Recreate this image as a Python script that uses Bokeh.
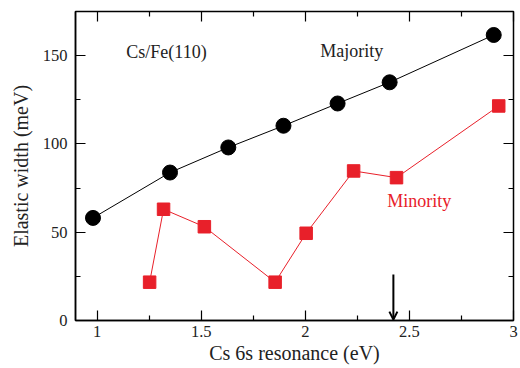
from bokeh.plotting import figure
from bokeh.models import (Range1d, LinearAxis, FixedTicker, Arrow, OpenHead, Label)
from bokeh.embed import file_html
from bokeh.resources import INLINE

# Data
maj_x = [0.98, 1.35, 1.63, 1.895, 2.155, 2.405, 2.905]
maj_y = [58.1, 83.8, 98.0, 110.3, 122.9, 134.9, 161.7]
min_x = [1.252, 1.319, 1.515, 1.855, 2.004, 2.232, 2.438, 2.929]
min_y = [21.7, 63.0, 53.1, 21.7, 49.4, 84.7, 80.9, 121.5]

x_ticks = [1, 1.5, 2, 2.5, 3]
x_tick_labels = ["1", "1.5", "2", "2.5", "3"]
x_minor = [1.25, 1.75, 2.25, 2.75]
y_ticks = [0, 50, 100, 150]
y_tick_labels = ["0", "50", "100", "150"]
y_minor = [25, 75, 125]

arrow_x = 2.423
arrow_y_top = 26
arrow_y_bottom = 0.5

FONT = "'Liberation Serif'"
RED = "#e8202a"
TXT = "#222222"

p = figure(width=520, height=368, output_backend="svg", toolbar_location=None,
           x_range=Range1d(0.896, 3.0), y_range=Range1d(0, 175),
           x_axis_location=None, y_axis_location=None)
p.min_border_left = 75
p.min_border_right = 7
p.min_border_top = 11
p.min_border_bottom = 48
p.background_fill_color = "white"
p.border_fill_color = "white"
p.grid.visible = False
p.outline_line_color = "black"
p.outline_line_width = 1.5
p.outline_line_alpha = 1.0

def make_axis(ticks, minor, labels, show_labels, label_text=None,
              tick_standoff=7, label_standoff=8):
    ax = LinearAxis(ticker=FixedTicker(ticks=ticks, minor_ticks=minor))
    ax.major_tick_in = 10
    ax.major_tick_out = 0
    ax.minor_tick_in = 5
    ax.minor_tick_out = 0
    ax.major_tick_line_width = 1.2
    ax.minor_tick_line_width = 1.2
    ax.axis_line_width = 1.5
    if show_labels:
        ax.major_label_overrides = {t: l for t, l in zip(ticks, labels)}
        ax.major_label_text_font = FONT
        ax.major_label_text_font_size = "16.5px"
        ax.major_label_text_color = TXT
        ax.major_label_standoff = tick_standoff
        if label_text:
            ax.axis_label = label_text
            ax.axis_label_text_font = FONT
            ax.axis_label_text_font_size = "20px"
            ax.axis_label_text_font_style = "normal"
            ax.axis_label_text_color = TXT
            ax.axis_label_standoff = label_standoff
    else:
        ax.major_label_text_color = None
        ax.major_label_standoff = 0
        ax.axis_line_color = None
    return ax

p.add_layout(make_axis(x_ticks, x_minor, x_tick_labels, True, "Cs 6s resonance (eV)",
                       tick_standoff=5, label_standoff=2), "below")
p.add_layout(make_axis(y_ticks, y_minor, y_tick_labels, True, "Elastic width (meV)",
                       tick_standoff=8, label_standoff=8), "left")
p.add_layout(make_axis(x_ticks, x_minor, x_tick_labels, False), "above")
p.add_layout(make_axis(y_ticks, y_minor, y_tick_labels, False), "right")

# Majority
p.line(maj_x, maj_y, line_color="black", line_width=1)
p.scatter(maj_x, maj_y, marker="circle", size=15, fill_color="black", line_color="black")

# Minority
p.line(min_x, min_y, line_color=RED, line_width=1)
p.scatter(min_x, min_y, marker="square", size=12.5, fill_color=RED, line_color=RED)

# Arrow
p.add_layout(Arrow(x_start=arrow_x, y_start=arrow_y_top, x_end=arrow_x, y_end=arrow_y_bottom,
                   line_width=2, line_color="black",
                   end=OpenHead(size=8, line_width=2, line_color="black")))

# Text labels
p.add_layout(Label(x=1.14, y=152.0, text="Cs/Fe(110)", text_font=FONT, text_font_size="18px",
                   text_baseline="middle", text_color=TXT))
p.add_layout(Label(x=2.072, y=152.8, text="Majority", text_font=FONT, text_font_size="18px",
                   text_baseline="middle", text_color=TXT))
p.add_layout(Label(x=2.393, y=67.7, text="Minority", text_font=FONT, text_font_size="18px",
                   text_baseline="middle", text_color=RED))

open("out.html", "w").write(file_html(p, INLINE))
